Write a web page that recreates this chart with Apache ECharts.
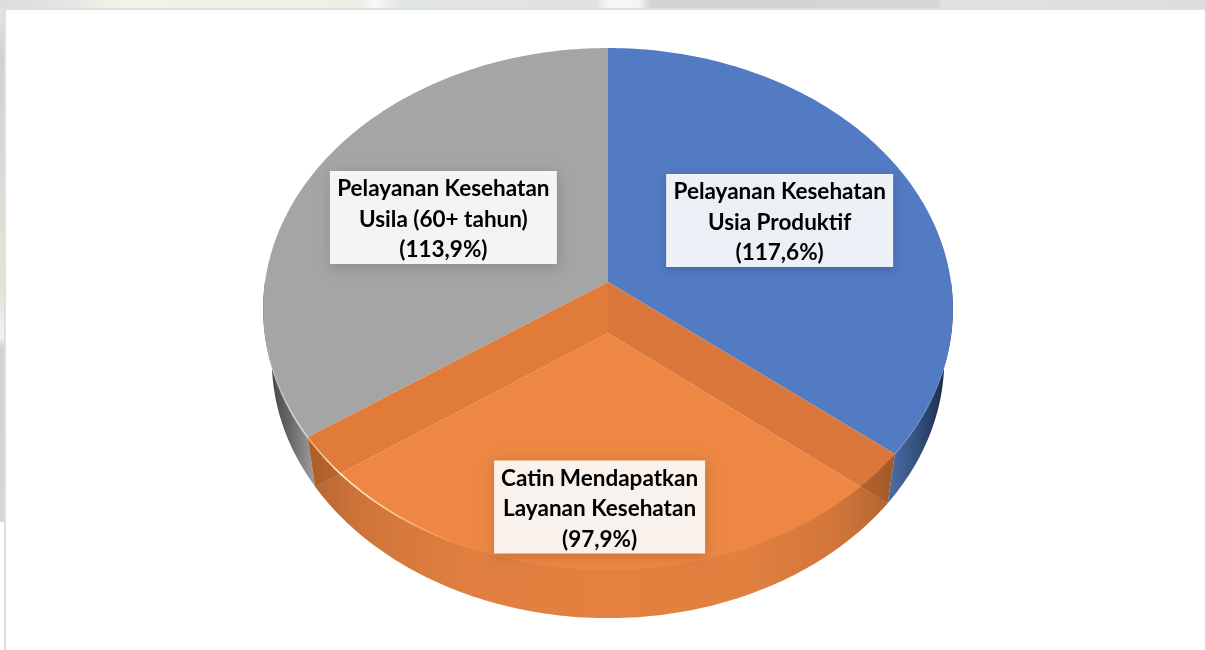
<!DOCTYPE html>
<html lang="en">
<head>
    <meta charset="UTF-8">
    <title>Pelayanan Kesehatan</title>
    <script src="https://cdn.jsdelivr.net/npm/echarts@6/dist/echarts.min.js"></script>
    <style>
        html, body { margin: 0; padding: 0; background: #fff; }
        #main { width: 1205px; height: 650px; }
    </style>
</head>
<body>
    <div id="main"></div>
    <script type="text/javascript">
        var categories = ['Pelayanan Kesehatan\nUsia Produktif', 'Catin Mendapatkan\nLayanan Kesehatan', 'Pelayanan Kesehatan\nUsila (60+ tahun)'];
        var values = [117.6, 97.9, 113.9];
        var colors = ['#527bc4', '#ed8743', '#a5a5a5'];

        var total = values.reduce(function (a, b) { return a + b; }, 0);
        var LG = echarts.graphic.LinearGradient;

        // the pie is a tilted disc, so one perspective projection for top and bottom face
        var CX = 608, TOP_Y = 282, BOTTOM_Y = 333;
        var RX = 343, RY = 258.2, K = 0.1035;
        var BOTTOM_SX = 0.975, BOTTOM_SY = 0.99;

        var LABEL_R = [0.58, 0.79, 0.55];
        var LABEL_SHIFT = [[-3, 2], [2, 3], [-2, 0]];
        var LABEL_W = [227, 211, 227];

        function project(deg, r, bottom) {
            var a = deg * Math.PI / 180;
            var u = Math.sin(a) * r, v = -Math.cos(a) * r;
            var d = 1 - K * v;
            return [
                CX + RX * (bottom ? BOTTOM_SX : 1) * u / d,
                (bottom ? BOTTOM_Y : TOP_Y) + RY * (bottom ? BOTTOM_SY : 1) * v / d
            ];
        }

        function arc(from, to, bottom) {
            var pts = [], n = Math.ceil(Math.abs(to - from));
            for (var i = 0; i <= n; i++) {
                pts.push(project(from + (to - from) * i / n, 1, bottom));
            }
            return pts;
        }

        function poly(points, fill, z2) {
            return { type: 'polygon', shape: { points: points }, style: { fill: fill }, z2: z2, silent: true };
        }

        function line(points, stroke, width, z2) {
            return { type: 'polyline', shape: { points: points }, style: { fill: null, stroke: stroke, lineWidth: width }, z2: z2, silent: true };
        }

        function hGrad(stops) {
            return new LG(0, 0, 1, 0, stops.map(function (s) { return { offset: s[0], color: s[1] }; }));
        }

        function renderSlice(params, api) {
            var i = params.dataIndex;
            var start = 0;
            for (var j = 0; j < i; j++) { start += values[j] / total * 360; }
            var end = start + api.value(0) / total * 360;
            var mid = (start + end) / 2;
            var els = [];
            var apexTop = [CX, TOP_Y], apexBottom = [CX, BOTTOM_Y];

            if (i === 0) {
                // blue: right rim wall, then top face
                els.push(poly(arc(90, end, false).concat(arc(end, 90, true)), hGrad([
                    [0, '#4c6fa8'], [0.45, '#34517f'], [1, '#14233c']
                ]), 1));
                els.push(poly([apexTop].concat(arc(start, end, false)), colors[0], 3));
                els.push(line(arc(100, end, false), hGrad([
                    [0, 'rgba(120,150,205,0.7)'], [1, 'rgba(120,150,205,0)']
                ]), 1.5, 4));
            } else if (i === 2) {
                // grey: left rim wall, then top face
                els.push(poly(arc(start, 270, false).concat(arc(270, start, true)), hGrad([
                    [0, '#3c3c3c'], [0.5, '#666666'], [1, '#a0a0a0']
                ]), 1));
                els.push(poly([apexTop].concat(arc(start, end, false)), colors[2], 3));
                els.push(line(arc(start, 262, false), hGrad([
                    [0, 'rgba(225,225,225,0)'], [0.6, 'rgba(225,225,225,0.8)'], [1, 'rgba(225,225,225,0.9)']
                ]), 1.5, 4));
            } else {
                // orange: drawn see-through, floor + two inner walls + front wall
                var floor = [apexBottom].concat(arc(start, end, true));
                var topS = project(start, 1, false), topE = project(end, 1, false);
                var botS = project(start, 1, true), botE = project(end, 1, true);
                els.push(poly(floor, colors[1], 5));
                els.push(poly([apexTop, apexBottom, botS, topS], '#d9783a', 6));
                els.push(poly([apexTop, apexBottom, botE, topE], '#e07b39', 6));
                els.push(poly(arc(start, end, false).concat(arc(end, start, true)), hGrad([
                    [0, 'rgba(40,15,0,0.28)'], [0.1, 'rgba(40,15,0,0.15)'], [0.25, 'rgba(40,15,0,0.07)'],
                    [0.5, 'rgba(40,15,0,0.05)'], [0.75, 'rgba(40,15,0,0.06)'], [0.9, 'rgba(40,15,0,0.14)'],
                    [1, 'rgba(40,15,0,0.3)']
                ]), 7));
                els.push(line(arc(end, 200, false), hGrad([
                    [0, 'rgba(255,215,170,0.5)'], [0.2, 'rgba(255,245,205,1)'], [0.5, 'rgba(255,225,170,0.8)'],
                    [1, 'rgba(255,170,100,0)']
                ]), 1.6, 8));
            }

            // label box sits on the slice's mid angle
            var c = project(mid, LABEL_R[i], false);
            var bx = c[0] + LABEL_SHIFT[i][0], by = c[1] + LABEL_SHIFT[i][1];
            var w = LABEL_W[i], h = 93;
            els.push({
                type: 'rect',
                shape: { x: bx - w / 2, y: by - h / 2, width: w, height: h },
                style: { fill: 'rgba(255,255,255,0.9)', shadowBlur: 12, shadowOffsetX: 1, shadowOffsetY: 3, shadowColor: 'rgba(0,0,0,0.2)' },
                z2: 20,
                silent: true
            });
            els.push({
                type: 'text',
                x: bx,
                y: by + 2,
                style: {
                    text: categories[i] + '\n(' + api.value(0).toFixed(1).replace('.', ',') + '%)',
                    font: 'bold 22.5px Lato, sans-serif',
                    lineHeight: 30.5,
                    fill: '#000',
                    align: 'center',
                    verticalAlign: 'middle'
                },
                z2: 21,
                silent: true
            });
            return { type: 'group', children: els };
        }

        var myChart = echarts.init(document.getElementById('main'), null, { renderer: 'canvas' });

        var option = {
            animation: false,
            backgroundColor: '#fff',
            tooltip: { show: false },
            // faded photo behind the slide panel
            graphic: [
                {
                    type: 'rect', z: -1, shape: { x: 0, y: 0, width: 1205, height: 8 },
                    style: { fill: hGrad([
                        [0, '#dcdcdc'], [0.05, '#e4e4e0'], [0.1, '#f3f1eb'], [0.19, '#f0f0ea'], [0.3, '#efefea'],
                        [0.31, '#f8f8f6'], [0.335, '#dfe5e3'], [0.495, '#dfe4e2'], [0.505, '#f8f8f6'], [0.53, '#f5f5f3'],
                        [0.54, '#d3d3d3'], [0.778, '#d5d5d5'], [0.782, '#e2e3de'], [1, '#dcdedb']
                    ]) }
                },
                {
                    type: 'rect', z: -1, shape: { x: 0, y: 8, width: 5, height: 514 },
                    style: { fill: new LG(0, 0, 0, 1, [
                        { offset: 0, color: '#e4e4e2' }, { offset: 0.1, color: '#d0d0d0' }, { offset: 0.35, color: '#dcdcd4' },
                        { offset: 0.55, color: '#e2e4d8' }, { offset: 0.64, color: '#f2f2ee' }, { offset: 0.66, color: '#d2d2d2' },
                        { offset: 1, color: '#d4d6da' }
                    ]) }
                },
                { type: 'rect', z: -1, shape: { x: 4, y: 8, width: 1201, height: 2 }, style: { fill: '#e0e0e0' } },
                { type: 'rect', z: -1, shape: { x: 4, y: 8, width: 2, height: 642 }, style: { fill: '#e0e0e0' } }
            ],
            series: [{
                type: 'custom',
                coordinateSystem: 'none',
                renderItem: renderSlice,
                data: values.map(function (v, i) { return { name: categories[i], value: [v] }; })
            }]
        };

        myChart.setOption(option);
    </script>
</body>
</html>
